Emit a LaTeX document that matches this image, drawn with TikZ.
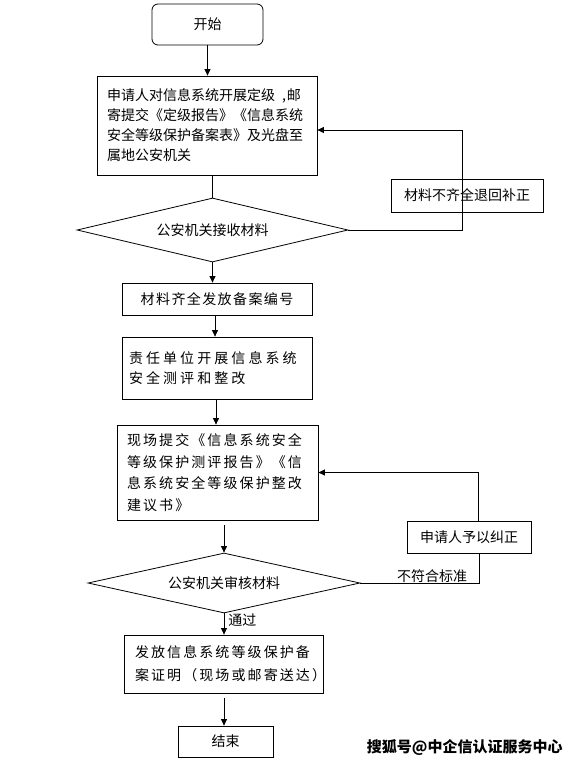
\documentclass[tikz,border=0pt]{standalone}
\usepackage{fontspec}
\setmainfont{Noto Sans CJK SC}
\newfontfamily\cjkB{Noto Sans CJK SC}[LetterSpace=10]
\newfontfamily\cjkC{Noto Sans CJK SC}[LetterSpace=22]
\newfontfamily\cjkD{Noto Sans CJK SC}[LetterSpace=15]
\usetikzlibrary{shapes.geometric,arrows.meta}
\begin{document}
\begin{tikzpicture}[x=1pt,y=-1pt, line width=0.8pt, font=\fontsize{14pt}{20pt}\selectfont,
 box/.style={draw, rectangle, inner ysep=0pt, align=left},
 dia/.style={draw, diamond, shape aspect=4.2, inner sep=0pt},
 arr/.style={-{Triangle[length=6.5pt,width=6pt]}}]
\useasboundingbox[fill=white] (0,0) rectangle (578,764);

\node[box, rounded corners=6pt, minimum width=111pt, minimum height=41pt, align=center] (start) at (207.5,24.5) {开始};
\node[box, inner xsep=10pt, text width=200pt, minimum height=99pt] (b1) at (207,125.5) {申请人对信息系统开展定级\hspace{7pt},\hspace{1pt}邮\\寄提交《定级报告》《信息系统\\安全等级保护备案表》及光盘至\\属地公安机关};
\node[dia, minimum width=271pt, minimum height=64pt] (d1) at (212.5,230) {公安机关接收材料};
\node[box, minimum width=152pt, minimum height=33pt, align=center] (fix1) at (467,195.5) {材料不齐全退回补正};
\node[box, minimum width=190pt, minimum height=32pt, align=center, font=\cjkB\fontsize{14pt}{20pt}\selectfont] (b2) at (217,299) {材料齐全发放备案编号};
\node[box, inner xsep=7pt, text width=176pt, minimum height=62pt, font=\cjkC\fontsize{14pt}{20pt}\selectfont] (b3) at (217,368) {责任单位开展信息系统\\安全测评和整改};
\node[box, inner xsep=10pt, text width=181pt, minimum height=95pt, font=\cjkD\fontsize{14pt}{21.5pt}\selectfont] (b4) at (217.5,472.5) {现场提交《信息系统安全\\等级保护测评报告》《信\\息系统安全等级保护整改\\建议书》};
\node[dia, minimum width=272pt, minimum height=60pt] (d2) at (224,583) {公安机关审核材料};
\node[box, minimum width=124pt, minimum height=32pt, align=center] (fix2) at (469,537) {申请人予以纠正};
\node[box, inner xsep=11pt, text width=177pt, minimum height=58pt, font=\cjkD\fontsize{14pt}{23pt}\selectfont] (b5) at (223.5,664) {发放信息系统等级保护备\\案证明（现场或邮寄送达）};
\node[box, minimum width=95pt, minimum height=31pt, align=center] (end) at (225.5,741.5) {结束};

\node[font=\fontsize{14pt}{16pt}\selectfont, inner sep=1pt] (lbl1) at (432,576) {不符合标准};
\node[anchor=west, inner sep=1pt] (lbl2) at (227,620) {通过};
\node[font=\fontsize{15pt}{18pt}\selectfont\bfseries, anchor=east, inner sep=0pt] (wm) at (563,747) {搜狐号@中企信认证服务中心};

\draw[arr] (start.south) -- (start.south |- b1.north);
\draw (d1.north |- b1.south) -- (d1.north);
\coordinate (r1) at (462,130);
\draw[arr] (d1.east) -| (r1) -- (r1 -| b1.east);
\draw[arr] (d1.south) -- (d1.south |- b2.north);
\draw[arr] ([xshift=-2pt]b2.south) -- ([xshift=-2pt]b2.south |- b3.north);
\draw[arr] ([xshift=-1pt]b3.south) -- ([xshift=-1pt]b3.south |- b4.north);
\coordinate (t4) at (d2.north |- b4.south);
\draw[arr] ([yshift=-5pt]t4) -- (d2.north);
\draw (d2.east) -| ([xshift=10pt]fix2.south);
\draw[arr] ([xshift=9pt]fix2.north) |- (b4.east);
\draw[arr] (d2.south) -- (d2.south |- b5.north);
\coordinate (t5) at (d2.south |- b5.south);
\draw[arr] ([yshift=-5pt]t5) -- (t5 |- end.north);
\end{tikzpicture}
\end{document}
